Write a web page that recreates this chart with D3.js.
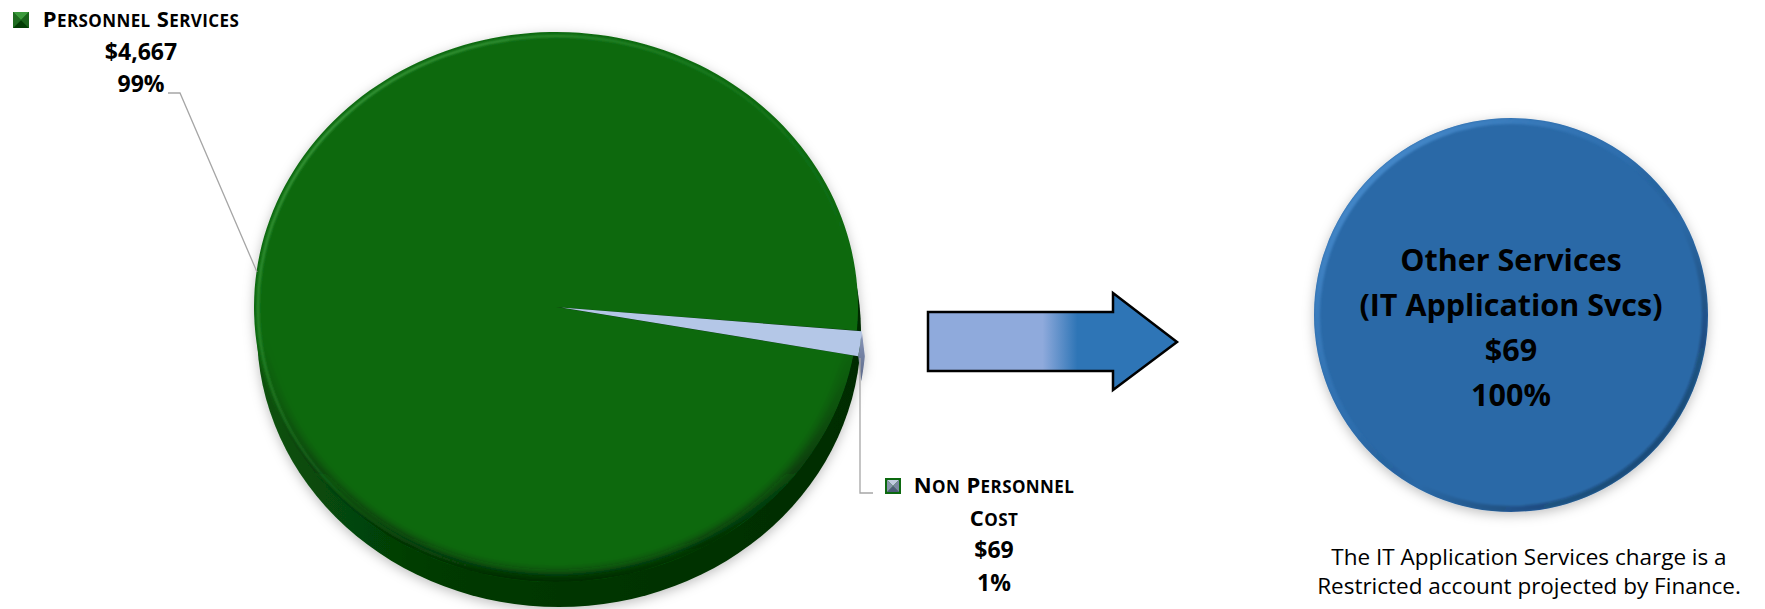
<!DOCTYPE html>
<html>
<head>
<meta charset="utf-8">
<script src="https://cdn.jsdelivr.net/npm/d3@7"></script>
<style>
  html, body { margin: 0; padding: 0; background: #ffffff; }
  svg { display: block; }
  text { font-family: "Open Sans", Lato, sans-serif; }
</style>
</head>
<body>
<svg id="chart" width="1765" height="609"></svg>
<script>
// ---- data ----
const categories = ["Personnel Services", "Non Personnel Cost"];
const values = [4667, 69];
const labelLines = [["Personnel Services"], ["Non Personnel", "Cost"]];
const sliceColors = ["#0c690f", "#b4c7e7"];

const otherCategoryLines = ["Other Services", "(IT Application Svcs)"];
const otherValues = [69];
const otherColors = ["#2c69a7"];

const captionLines = [
  "The IT Application Services charge is a",
  "Restricted account projected by Finance."
];

const fmtMoney = d3.format("$,");
const fmtPct = d3.format(".0%");

// ---- layout ----
const svg = d3.select("#chart");
const defs = svg.append("defs");

const pieCx = 556, pieCy = 307, pieRx = 302, pieRy = 275, depth = 25, sideDx = 3;
const sy = pieRy / pieRx;
const deg = Math.PI / 180;

// filters
function blurFilter(id, sd) {
  const f = defs.append("filter").attr("id", id)
    .attr("x", "-10%").attr("y", "-10%").attr("width", "120%").attr("height", "120%");
  f.append("feGaussianBlur").attr("stdDeviation", sd);
}
const shadow = defs.append("filter").attr("id", "shadow")
  .attr("x", "-10%").attr("y", "-10%").attr("width", "120%").attr("height", "120%");
shadow.append("feDropShadow").attr("dx", 0).attr("dy", 3)
  .attr("stdDeviation", 6).attr("flood-color", "#000").attr("flood-opacity", 0.25);
blurFilter("soft", 5);
blurFilter("softer", 1);

// gradients
function linGrad(id, x1, y1, x2, y2, stops, units) {
  const g = defs.append("linearGradient").attr("id", id)
    .attr("x1", x1).attr("y1", y1).attr("x2", x2).attr("y2", y2);
  if (units) g.attr("gradientUnits", units);
  stops.forEach(s => g.append("stop").attr("offset", s[0])
    .attr("stop-color", s[1]).attr("stop-opacity", s[2] == null ? 1 : s[2]));
  return g;
}
linGrad("greenSide", 0, 0, 1, 0, [[0, "#0a520c"], [0.3, "#023a04"], [1, "#012c02"]]);
linGrad("greenRimDark", 0, 0, 0, 1, [[0, "#000", 0], [0.55, "#000", 0], [1, "#001a00", 0.8]]);
linGrad("greenRimLight", 0, 0, 1, 1, [[0, "#5fbf5f", 0.9], [0.45, "#3a9a3a", 0.35], [0.7, "#3a9a3a", 0]]);
linGrad("sliceSide", 0, 0, 0, 1, [[0, "#8a98bb"], [1, "#5b6888"]]);
linGrad("arrowFill", 928, 0, 1177, 0, [[0, "#8faadc"], [0.46, "#8faadc"], [0.6, "#2e75b6"], [1, "#2e75b6"]], "userSpaceOnUse");
linGrad("blueRim", 0, 0, 1, 1, [[0, "#5a9ee0", 0.9], [0.45, "#3a80c4", 0.2], [0.6, "#000", 0], [1, "#0b2a4a", 0.6]]);

// ---- left pie (3D look) ----
const pie = d3.pie().sort(null)
  .startAngle(100.17 * deg).endAngle(100.17 * deg + 2 * Math.PI);
const arcs = pie(values);
const arc = d3.arc().innerRadius(0).outerRadius(pieRx);

const pieG = svg.append("g").attr("filter", "url(#shadow)");

// side wall
pieG.append("path")
  .attr("d", `M${pieCx - pieRx},${pieCy} L${pieCx + pieRx},${pieCy} L${pieCx + pieRx + sideDx},${pieCy + depth} L${pieCx - pieRx + sideDx},${pieCy + depth} Z`)
  .attr("fill", "url(#greenSide)");
pieG.append("ellipse")
  .attr("cx", pieCx + sideDx).attr("cy", pieCy + depth)
  .attr("rx", pieRx).attr("ry", pieRy)
  .attr("fill", "url(#greenSide)");

// clip for top face
defs.append("clipPath").attr("id", "topClip")
  .append("ellipse").attr("cx", pieCx).attr("cy", pieCy).attr("rx", pieRx).attr("ry", pieRy);

// small slice pulled outward
const explode = arcs.map((a, i) => i === 1 ? 5 : 0);
function offset(a, i) {
  const m = (a.startAngle + a.endAngle) / 2;
  return [Math.sin(m) * explode[i], -Math.cos(m) * explode[i] * sy];
}

// side of the small slice
{
  const a = arcs[1];
  const [ox, oy] = offset(a, 1);
  const n = 20, top = [], bot = [];
  for (let k = 0; k <= n; k++) {
    const t = a.startAngle + (a.endAngle - a.startAngle) * k / n;
    const x = pieCx + ox + Math.sin(t) * pieRx;
    const y = pieCy + oy - Math.cos(t) * pieRy;
    top.push([x, y]);
    bot.push([x + sideDx, y + depth]);
  }
  pieG.append("path")
    .attr("d", d3.line()(top.concat(bot.reverse())) + "Z")
    .attr("fill", "url(#sliceSide)");
}

// top face: big slice
const topG = pieG.append("g");
topG.append("path")
  .attr("transform", `translate(${pieCx},${pieCy}) scale(1,${sy})`)
  .attr("d", arc(arcs[0]))
  .attr("fill", sliceColors[0]);

// bevel shading on the rim
const bevel = topG.append("g").attr("clip-path", "url(#topClip)");
bevel.append("ellipse")
  .attr("cx", pieCx).attr("cy", pieCy).attr("rx", pieRx).attr("ry", pieRy)
  .attr("fill", "none").attr("stroke", "url(#greenRimDark)").attr("stroke-width", 18)
  .attr("filter", "url(#soft)");
bevel.append("ellipse")
  .attr("cx", pieCx).attr("cy", pieCy).attr("rx", pieRx - 4).attr("ry", pieRy - 4)
  .attr("fill", "none").attr("stroke", "url(#greenRimLight)").attr("stroke-width", 2.2)
  .attr("filter", "url(#softer)");

// top face: small slice
{
  const [ox, oy] = offset(arcs[1], 1);
  topG.append("path")
    .attr("transform", `translate(${pieCx + ox},${pieCy + oy}) scale(1,${sy})`)
    .attr("d", arc(arcs[1]))
    .attr("fill", sliceColors[1]);
}

// ---- labels for the left pie ----
const leader = "#a6a6a6";
const valueFont = 23;
const capFont = 22, smallCapFont = 17;

function bevelSquare(x, y, s, outer, light, dark, border) {
  const g = svg.append("g");
  g.append("rect").attr("x", x).attr("y", y).attr("width", s).attr("height", s).attr("fill", outer);
  const p = border ? 2 : 0;
  const x0 = x + p, y0 = y + p, x1 = x + s - p, y1 = y + s - p, mx = (x0 + x1) / 2, my = (y0 + y1) / 2;
  g.append("path").attr("d", `M${x0},${y0}L${x1},${y0}L${mx},${my}Z`).attr("fill", light);
  g.append("path").attr("d", `M${x0},${y1}L${x1},${y1}L${mx},${my}Z`).attr("fill", dark);
  g.append("path").attr("d", `M${x0},${y0}L${x0},${y1}L${mx},${my}Z`).attr("fill", d3.interpolateRgb(light, dark)(0.5));
  g.append("path").attr("d", `M${x1},${y0}L${x1},${y1}L${mx},${my}Z`).attr("fill", d3.interpolateRgb(light, dark)(0.6));
  return g;
}

// small-caps text: first letter of each word full size, the rest smaller capitals
function smallCaps(sel, str) {
  str.split(" ").forEach((w, wi) => {
    if (wi > 0) sel.append("tspan").attr("font-size", capFont).text(" ");
    sel.append("tspan").attr("font-size", capFont).text(w[0].toUpperCase());
    if (w.length > 1) sel.append("tspan").attr("font-size", smallCapFont).text(w.slice(1).toUpperCase());
  });
}

const labelSpecs = [
  { cx: 141, y0: 27, sq: [13, 12], line: [[168, 93], [180, 93], [257, 272]] },
  { cx: 994, y0: 493, sq: [885, 478], line: [[860, 358], [860, 493], [873, 493]] }
];
const lineH = 32.5;

arcs.forEach((a, i) => {
  const spec = labelSpecs[i];
  svg.append("path")
    .attr("d", d3.line()(spec.line))
    .attr("fill", "none").attr("stroke", leader).attr("stroke-width", 1.3);

  if (i === 0) bevelSquare(spec.sq[0], spec.sq[1], 16, "#0c690f", "#3c9a3c", "#023d04", false);
  else bevelSquare(spec.sq[0], spec.sq[1], 16, "#0c690f", "#c2cbe0", "#4d5a78", true);

  const titles = labelLines[i];
  titles.forEach((t, k) => {
    const txt = svg.append("text")
      .attr("x", spec.cx).attr("y", spec.y0 + k * lineH)
      .attr("text-anchor", "middle")
      .attr("font-weight", 700).attr("letter-spacing", 0.4)
      .attr("fill", "#000");
    smallCaps(txt, t);
  });
  [fmtMoney(a.data), fmtPct(a.data / d3.sum(values))].forEach((t, k) => {
    svg.append("text")
      .attr("x", spec.cx).attr("y", spec.y0 + (titles.length + k) * lineH)
      .attr("text-anchor", "middle")
      .attr("font-size", valueFont).attr("font-weight", 700)
      .attr("fill", "#000")
      .text(t);
  });
});

// ---- arrow ----
const arrowPts = [
  [928, 312], [1113, 312], [1113, 293], [1177, 342],
  [1113, 390], [1113, 371], [928, 371]
];
svg.append("path")
  .attr("d", d3.line()(arrowPts) + "Z")
  .attr("fill", "url(#arrowFill)")
  .attr("stroke", "#000").attr("stroke-width", 2.5).attr("stroke-linejoin", "miter");

// ---- right pie (single slice) ----
const bCx = 1511, bCy = 315, bR = 197;
const arcs2 = d3.pie().sort(null)(otherValues);
const arc2 = d3.arc().innerRadius(0).outerRadius(bR);

const bG = svg.append("g").attr("transform", `translate(${bCx},${bCy})`);
bG.append("g").attr("filter", "url(#shadow)")
  .selectAll("path").data(arcs2).join("path")
  .attr("d", arc2).attr("fill", (d, i) => otherColors[i]);

defs.append("clipPath").attr("id", "blueClip")
  .append("circle").attr("cx", 0).attr("cy", 0).attr("r", bR);
bG.append("g").attr("clip-path", "url(#blueClip)")
  .append("circle").attr("r", bR - 3)
  .attr("fill", "none").attr("stroke", "url(#blueRim)").attr("stroke-width", 6)
  .attr("filter", "url(#softer)");

const otherTotal = d3.sum(otherValues);
const innerLines = otherCategoryLines.concat(arcs2.flatMap(a => [fmtMoney(a.data), fmtPct(a.data / otherTotal)]));
const innerBase = [271, 316, 361, 406];
innerLines.forEach((t, k) => {
  svg.append("text")
    .attr("x", bCx).attr("y", innerBase[k])
    .attr("text-anchor", "middle")
    .attr("font-size", 30.5).attr("font-weight", 700)
    .attr("fill", "#000")
    .text(t);
});

// ---- caption ----
captionLines.forEach((t, k) => {
  svg.append("text")
    .attr("x", 1529).attr("y", 565 + k * 29)
    .attr("text-anchor", "middle")
    .attr("font-size", 22.5)
    .attr("fill", "#000")
    .text(t);
});
</script>
</body>
</html>
